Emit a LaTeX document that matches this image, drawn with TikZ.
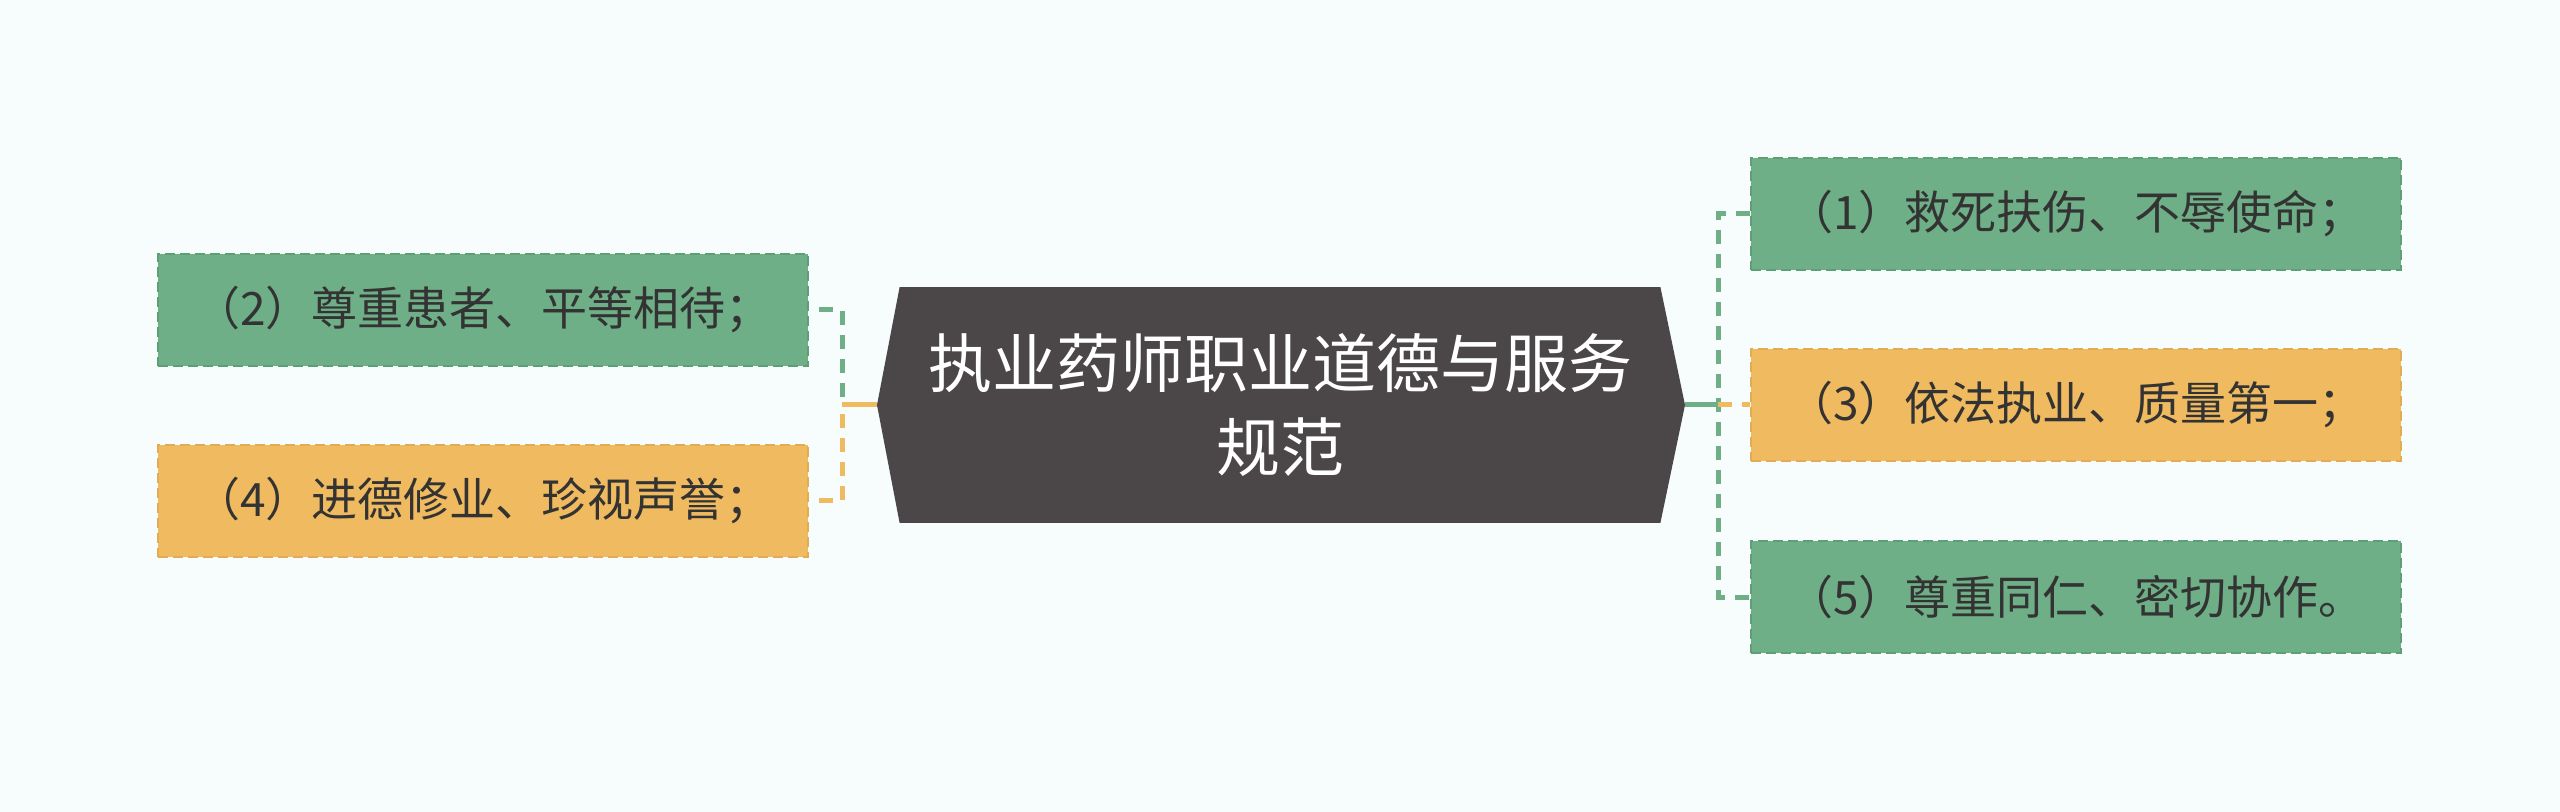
\documentclass[tikz,border=0pt]{standalone}
\usepackage{fontspec}
\setmainfont{Noto Sans CJK SC}
\usetikzlibrary{backgrounds}
\definecolor{bgc}{HTML}{F7FCFC}
\definecolor{grn}{HTML}{6EAF87}
\definecolor{grnd}{HTML}{5E9F78}
\definecolor{org}{HTML}{F0BB60}
\definecolor{orgd}{HTML}{E2AD52}
\definecolor{hubc}{HTML}{4B4647}
\definecolor{ink}{HTML}{333333}
\begin{document}
\begin{tikzpicture}[x=0.5pt,y=-0.5pt,
  leaf/.style={minimum width=325pt,minimum height=56pt,inner sep=0pt,draw,line width=1pt,
    dash pattern=on 5pt off 2.5pt,text=ink,font=\fontsize{23}{28}\selectfont},
  gleaf/.style={leaf,fill=grn,draw=grnd},
  oleaf/.style={leaf,fill=org,draw=orgd},
  link/.style={line width=2.5pt,dash pattern=on 7pt off 5pt}]
\useasboundingbox (0,0) rectangle (2560,812);
\node[text=white,font=\fontsize{32}{42}\selectfont,align=center,minimum width=380pt,
  minimum height=117.5pt] (hub) at (1280,405) {执业药师职业道德与服务\\规范};
\coordinate (hl) at (877,405); \coordinate (hr) at (1685,405);
\begin{scope}[on background layer]
\fill[bgc] (0,0) rectangle (2560,812);
\fill[hubc] (hub.north west) -- (hub.north east) -- (hr) -- (hub.south east)
  -- (hub.south west) -- (hl) -- cycle;
\end{scope}
\node[gleaf] (p2) at (483,310) {（2）尊重患者、平等相待；};
\node[oleaf] (p4) at (483,501) {（4）进德修业、珍视声誉；};
\node[gleaf] (p1) at (2076,214) {（1）救死扶伤、不辱使命；};
\node[oleaf] (p3) at (2076,405) {（3）依法执业、质量第一；};
\node[gleaf] (p5) at (2076,597) {（5）尊重同仁、密切协作。};
\coordinate (lj) at (842,405); \coordinate (rj) at (1718,405);
\draw[link,dash phase=7pt,grn] (p2.east) -- (p2.east -| lj) -- (lj);
\draw[link,dash phase=7pt,org] (p4.east) -- (p4.east -| lj) -- (lj);
\draw[line width=2.5pt,org] (lj) -- (hl);
\draw[line width=2.5pt,grn] (hr) -- (rj);
\draw[link,grn] (p1.west) -- (p1.west -| rj) -- (p5.west -| rj) -- (p5.west);
\draw[link,org] (rj) -- (p3.west);
\end{tikzpicture}
\end{document}
